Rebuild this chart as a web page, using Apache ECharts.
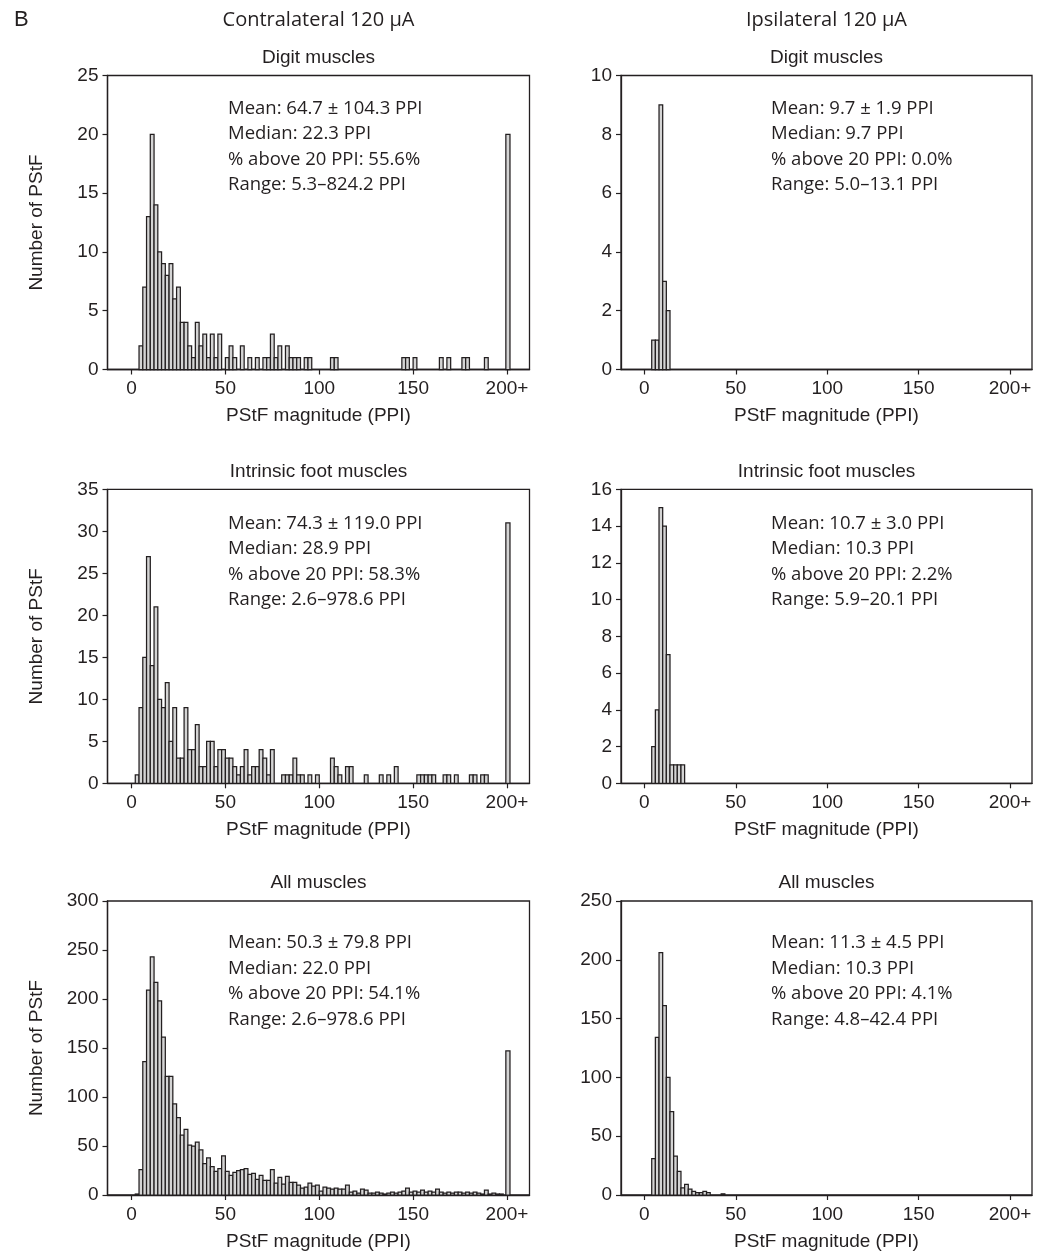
<!DOCTYPE html>
<html>
<head>
<meta charset="utf-8">
<script src="https://cdn.jsdelivr.net/npm/echarts@6/dist/echarts.min.js"></script>
<style>
  html, body { margin: 0; padding: 0; background: #ffffff; }
  #chart { width: 1054px; height: 1257px; }
</style>
</head>
<body>
<div id="chart"></div>
<script>
// PStF magnitude histograms, 2-PPI bins starting at 0; the last bar collects every value of 200 PPI and above.

const binWidth = 2;

// Contralateral 120 µA — counts per bin (bin i spans [2i, 2i+2) PPI)
const contraDigit = [
  0, 0, 2, 7, 13, 20, 14, 10, 9, 8,
  9, 6, 7, 4, 4, 2, 1, 4, 2, 3,
  1, 3, 1, 3, 0, 1, 2, 1, 0, 2,
  0, 1, 0, 1, 0, 1, 1, 3, 1, 2,
  0, 2, 1, 1, 1, 0, 1, 1, 0, 0,
  0, 0, 0, 1, 1, 0, 0, 0, 0, 0,
  0, 0, 0, 0, 0, 0, 0, 0, 0, 0,
  0, 0, 1, 1, 0, 1, 0, 0, 0, 0,
  0, 0, 1, 0, 1, 0, 0, 0, 1, 1,
  0, 0, 0, 0, 1, 0, 0, 0, 0, 0
];
const contraDigitOver = 20;

const contraFoot = [
  0, 1, 9, 15, 27, 14, 21, 10, 9, 12,
  5, 9, 3, 3, 9, 4, 4, 7, 2, 2,
  5, 5, 2, 4, 4, 3, 3, 2, 1, 2,
  4, 1, 2, 2, 4, 3, 1, 4, 0, 0,
  1, 1, 1, 3, 1, 1, 0, 1, 0, 1,
  0, 0, 0, 3, 2, 1, 0, 2, 2, 0,
  0, 0, 1, 0, 0, 0, 1, 0, 1, 0,
  2, 0, 0, 0, 0, 0, 1, 1, 1, 1,
  1, 0, 0, 1, 1, 0, 1, 0, 0, 0,
  1, 1, 0, 1, 1, 0, 0, 0, 0, 0
];
const contraFootOver = 31;

const contraAll = [
  0, 1, 26, 136, 209, 243, 217, 198, 161, 121,
  121, 93, 79, 61, 67, 51, 50, 54, 46, 32,
  38, 29, 24, 27, 40, 24, 20, 23, 25, 26,
  27, 21, 22, 16, 20, 15, 15, 26, 12, 18,
  11, 19, 13, 13, 10, 7, 8, 12, 9, 10,
  4, 8, 7, 6, 7, 6, 6, 10, 3, 4,
  2, 6, 5, 2, 2, 3, 2, 1, 2, 3,
  2, 3, 4, 7, 3, 4, 3, 5, 3, 4,
  3, 6, 3, 2, 3, 2, 3, 3, 2, 3,
  2, 3, 2, 1, 5, 1, 2, 1, 1, 0
];
const contraAllOver = 147;

// Ipsilateral 120 µA
const ipsiDigit = [0, 0, 1, 1, 9, 3, 2];
const ipsiDigitOver = 0;

const ipsiFoot = [0, 0, 2, 4, 15, 14, 7, 1, 1, 1, 1];
const ipsiFootOver = 0;

const ipsiAll = [
  0, 0, 31, 134, 206, 161, 100, 71, 33, 20,
  6, 9, 5, 3, 2, 2, 3, 2, 0, 0,
  0, 1
];
const ipsiAllOver = 0;

// Summary statistics printed inside each panel
const contraDigitStats = ['Mean: 64.7 \u00b1 104.3 PPI', 'Median: 22.3 PPI', '% above 20 PPI: 55.6%', 'Range: 5.3\u2013824.2 PPI'];
const contraFootStats  = ['Mean: 74.3 \u00b1 119.0 PPI', 'Median: 28.9 PPI', '% above 20 PPI: 58.3%', 'Range: 2.6\u2013978.6 PPI'];
const contraAllStats   = ['Mean: 50.3 \u00b1 79.8 PPI', 'Median: 22.0 PPI', '% above 20 PPI: 54.1%', 'Range: 2.6\u2013978.6 PPI'];
const ipsiDigitStats   = ['Mean: 9.7 \u00b1 1.9 PPI', 'Median: 9.7 PPI', '% above 20 PPI: 0.0%', 'Range: 5.0\u201313.1 PPI'];
const ipsiFootStats    = ['Mean: 10.7 \u00b1 3.0 PPI', 'Median: 10.3 PPI', '% above 20 PPI: 2.2%', 'Range: 5.9\u201320.1 PPI'];
const ipsiAllStats     = ['Mean: 11.3 \u00b1 4.5 PPI', 'Median: 10.3 PPI', '% above 20 PPI: 4.1%', 'Range: 4.8\u201342.4 PPI'];

const columnTitles = ['Contralateral 120 \u00b5A', 'Ipsilateral 120 \u00b5A'];
const rowTitles = ['Digit muscles', 'Intrinsic foot muscles', 'All muscles'];
const xTickValues = [0, 50, 100, 150, 200];
const overflowLabel = '200+';
const xName = 'PStF magnitude (PPI)';
const yName = 'Number of PStF';

// ---- layout & style ----
const INK = '#231f20';
const BAR_FILL = '#d4d4d4';
const SANS = '"Liberation Sans", Arial, Helvetica, sans-serif';
const HUMANIST = '"Open Sans", "Noto Sans", sans-serif';
const COL_X = [107.5, 621];
const COL_W = [422, 411];
const ROW_Y = [75.5, 489.3, 901];
const ROW_H = 294;
const STATS_X = [228, 771];
const STATS_DY = [33, 34, 42];
const STATS_LINE = 25.5;
const X_MIN = -12.8, X_MAX = 212;
const OVER_LO = 199.4, OVER_HI = 201.6;

const panels = [
  { col: 0, row: 0, counts: contraDigit, over: contraDigitOver, yMax: 25,  yStep: 5,  stats: contraDigitStats },
  { col: 1, row: 0, counts: ipsiDigit,   over: ipsiDigitOver,   yMax: 10,  yStep: 2,  stats: ipsiDigitStats },
  { col: 0, row: 1, counts: contraFoot,  over: contraFootOver,  yMax: 35,  yStep: 5,  stats: contraFootStats },
  { col: 1, row: 1, counts: ipsiFoot,    over: ipsiFootOver,    yMax: 16,  yStep: 2,  stats: ipsiFootStats },
  { col: 0, row: 2, counts: contraAll,   over: contraAllOver,   yMax: 300, yStep: 50, stats: contraAllStats },
  { col: 1, row: 2, counts: ipsiAll,     over: ipsiAllOver,     yMax: 250, yStep: 50, stats: ipsiAllStats }
];

function renderBin(params, api) {
  const lo = api.coord([api.value(0), 0]);
  const hi = api.coord([api.value(1), api.value(2)]);
  return {
    type: 'rect',
    shape: { x: lo[0], y: hi[1], width: hi[0] - lo[0], height: lo[1] - hi[1] },
    style: { fill: BAR_FILL, stroke: INK, lineWidth: 1.25 }
  };
}

const grids = [], xAxes = [], yAxes = [], series = [], graphics = [];

panels.forEach((p, k) => {
  const left = COL_X[p.col], width = COL_W[p.col], top = ROW_Y[p.row];
  grids.push({ left, top, width, height: ROW_H, show: true, borderColor: INK, borderWidth: 1.3, containLabel: false });

  xAxes.push({
    type: 'value', gridIndex: k, min: X_MIN, max: X_MAX,
    name: xName, nameLocation: 'middle', nameGap: 37,
    nameTextStyle: { fontFamily: SANS, fontSize: 19, color: INK },
    axisLine: { show: true, onZero: false, lineStyle: { color: INK, width: 1.3 } },
    axisTick: { show: true, inside: false, length: 5, customValues: xTickValues, lineStyle: { color: INK, width: 1.2 } },
    axisLabel: {
      show: true, margin: 10, customValues: xTickValues,
      fontFamily: SANS, fontSize: 19, color: INK,
      formatter: v => (v === 200 ? overflowLabel : String(v))
    },
    splitLine: { show: false }
  });

  yAxes.push({
    type: 'value', gridIndex: k, min: 0, max: p.yMax, interval: p.yStep,
    name: p.col === 0 ? yName : '', nameLocation: 'middle', nameGap: 61,
    nameTextStyle: { fontFamily: SANS, fontSize: 19, color: INK },
    axisLine: { show: true, onZero: false, lineStyle: { color: INK, width: 1.3 } },
    axisTick: { show: true, inside: false, length: 5, lineStyle: { color: INK, width: 1.2 } },
    axisLabel: { show: true, margin: 9, fontFamily: SANS, fontSize: 19, color: INK },
    splitLine: { show: false }
  });

  const data = [];
  p.counts.forEach((c, i) => { if (c > 0) data.push([i * binWidth, (i + 1) * binWidth, c]); });
  if (p.over > 0) data.push([OVER_LO, OVER_HI, p.over]);

  series.push({
    type: 'custom', xAxisIndex: k, yAxisIndex: k,
    renderItem: renderBin, data, encode: { x: [0, 1], y: 2 },
    silent: true, clip: false
  });

  // panel title
  graphics.push({
    type: 'text', x: left + width / 2, y: top - 18,
    style: { text: rowTitles[p.row], font: '19px ' + SANS, fill: INK, align: 'center', verticalAlign: 'middle' }
  });

  // statistics block
  p.stats.forEach((line, j) => {
    graphics.push({
      type: 'text', x: STATS_X[p.col], y: top + STATS_DY[p.row] + j * STATS_LINE,
      style: { text: line, font: '18.5px ' + HUMANIST, fill: INK, align: 'left', verticalAlign: 'middle' }
    });
  });
});

// column headers and panel letter
columnTitles.forEach((t, c) => {
  graphics.push({
    type: 'text', x: COL_X[c] + COL_W[c] / 2, y: 20,
    style: { text: t, font: '20px ' + HUMANIST, fill: INK, align: 'center', verticalAlign: 'middle' }
  });
});
graphics.push({
  type: 'text', x: 14, y: 20,
  style: { text: 'B', font: '22px ' + SANS, fill: INK, align: 'left', verticalAlign: 'middle' }
});

const chart = echarts.init(document.getElementById('chart'), null, { renderer: 'canvas' });
chart.setOption({
  animation: false,
  backgroundColor: '#ffffff',
  grid: grids,
  xAxis: xAxes,
  yAxis: yAxes,
  series: series,
  graphic: graphics
});
</script>
</body>
</html>
